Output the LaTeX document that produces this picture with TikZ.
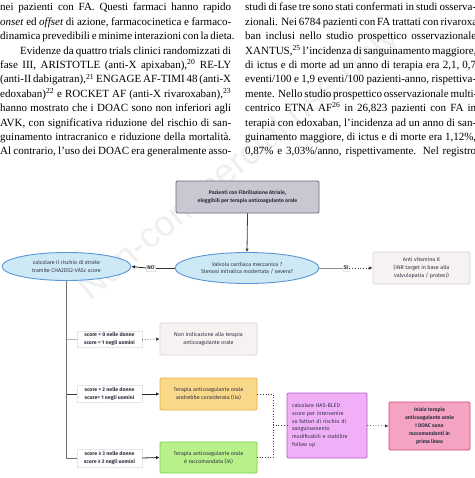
\documentclass[tikz,border=0pt]{standalone}
\usepackage{fontspec}
\setmainfont{Liberation Serif}
\newfontfamily\dia{Fira Sans}
\newfontfamily\wmfont{Liberation Sans}
\usetikzlibrary{shapes.geometric,arrows.meta}
\definecolor{txtc}{HTML}{333344}
\definecolor{topfill}{HTML}{C9C7D1}
\definecolor{topdraw}{HTML}{6D6A80}
\definecolor{ellfill}{HTML}{CDE9F5}
\definecolor{elldraw}{HTML}{5A95D5}
\definecolor{palefill}{HTML}{F7F2F2}
\definecolor{paledraw}{HTML}{D9D0D0}
\definecolor{orfill}{HTML}{F9D88A}
\definecolor{ordraw}{HTML}{E8B040}
\definecolor{grfill}{HTML}{B8F08A}
\definecolor{grdraw}{HTML}{78D040}
\definecolor{pufill}{HTML}{F0B0F8}
\definecolor{pudraw}{HTML}{B858C8}
\definecolor{refill}{HTML}{F5A3C3}
\definecolor{redraw}{HTML}{D84878}
\definecolor{wm}{HTML}{EFEFEF}
\begin{document}
\begin{tikzpicture}[x=1pt,y=-1pt,
  txt/.style={anchor=base west, inner sep=0, font=\fontsize{11}{13}\selectfont},
  box/.style={rectangle, rounded corners=1.2pt, line width=0.9pt, inner sep=1pt, align=center, text=txtc},
  ell/.style={ellipse, fill=ellfill, draw=elldraw, line width=0.9pt, inner sep=0pt, align=center, text=txtc,
     font=\dia\fontsize{5.4}{7.6}\selectfont},
  lab/.style={rectangle, fill=white, draw=black!10, line width=0.4pt, inner sep=1pt, align=center, text=txtc,
     font=\dia\bfseries\fontsize{5.2}{8}\selectfont},
  reg/.style={font=\dia\fontsize{5.4}{7.8}\selectfont},
  bld/.style={font=\dia\bfseries\fontsize{5.2}{8}\selectfont},
  tip/.style={-{Latex[length=3.5pt,width=3.5pt]}},
  dotl/.style={dotted, line width=0.7pt, color=black!75}
]
\useasboundingbox (0,0) rectangle (474,478);
\clip (0,0) rectangle (474,478);
% watermark
\node[anchor=base west, rotate=40, inner sep=0, text=wm, font=\wmfont\fontsize{36}{36}\selectfont] (wmk) at (90,302) {Non-commercial use only};
% left column
\node[txt] (l1) at (0,11) {\makebox[231pt][s]{nei pazienti con FA. Questi farmaci hanno rapido}};
\node[txt] (l2) at (0,25.4) {\makebox[231pt][s]{\textit{onset} ed \textit{offset} di azione, farmacocinetica e farmaco-}};
\node[txt] (l3) at (0,39.8) {\makebox[231pt][s]{dinamica prevedibili e minime interazioni con la dieta.}};
\node[txt] (l4) at (0,54.2) {\makebox[231pt][s]{\hspace*{20pt}Evidenze da quattro trials clinici randomizzati di}};
\node[txt] (l5) at (0,68.6) {\makebox[231pt][s]{fase III, ARISTOTLE (anti-X apixaban),\textsuperscript{20} RE-LY}};
\node[txt] (l6) at (0,83) {\makebox[231pt][s]{(anti-II dabigatran),\textsuperscript{21} ENGAGE AF-TIMI 48 (anti-X}};
\node[txt] (l7) at (0,97.4) {\makebox[231pt][s]{edoxaban)\textsuperscript{22} e ROCKET AF (anti-X rivaroxaban),\textsuperscript{23}}};
\node[txt] (l8) at (0,111.8) {\makebox[231pt][s]{hanno mostrato che i DOAC sono non inferiori agli}};
\node[txt] (l9) at (0,126.2) {\makebox[231pt][s]{AVK, con significativa riduzione del rischio di san-}};
\node[txt] (l10) at (0,140.6) {\makebox[231pt][s]{guinamento intracranico e riduzione della mortalità.}};
\node[txt] (l11) at (0,155) {\makebox[231pt][s]{Al contrario, l'uso dei DOAC era generalmente asso-}};
% right column
\node[txt] (r1) at (245,11) {\makebox[231pt][s]{studi di fase tre sono stati confermati in studi osserva-}};
\node[txt] (r2) at (245,25.4) {\makebox[231pt][s]{zionali. Nei 6784 pazienti con FA trattati con rivaroxa-}};
\node[txt] (r3) at (245,39.8) {\makebox[231pt][s]{ban inclusi nello studio prospettico osservazionale}};
\node[txt] (r4) at (245,54.2) {\makebox[231pt][s]{XANTUS,\textsuperscript{25} l'incidenza di sanguinamento maggiore,}};
\node[txt] (r5) at (245,68.6) {\makebox[231pt][s]{di ictus e di morte ad un anno di terapia era 2,1, 0,7}};
\node[txt] (r6) at (245,83) {\makebox[231pt][s]{eventi/100 e 1,9 eventi/100 pazienti-anno, rispettiva-}};
\node[txt] (r7) at (245,97.4) {\makebox[231pt][s]{mente. Nello studio prospettico osservazionale multi-}};
\node[txt] (r8) at (245,111.8) {\makebox[231pt][s]{centrico ETNA AF\textsuperscript{26} in 26,823 pazienti con FA in}};
\node[txt] (r9) at (245,126.2) {\makebox[231pt][s]{terapia con edoxaban, l'incidenza ad un anno di san-}};
\node[txt] (r10) at (245,140.6) {\makebox[231pt][s]{guinamento maggiore, di ictus e di morte era 1,12\%,}};
\node[txt] (r11) at (245,155) {\makebox[231pt][s]{0,87\% e 3,03\%/anno, rispettivamente. Nel registro}};
% diagram nodes
\node[box, bld, fill=topfill, draw=topdraw, minimum width=143pt, minimum height=32pt] (top) at (247.5,197)
  {Pazienti con Fibrillazione Atriale,\\eleggibili per terapia anticoagulante orale};
\node[ell, minimum width=144pt, minimum height=31pt] (valve) at (247,268)
  {Valvola cardiaca meccanica ?\\Stenosi mitralica modertata / severa?};
\node[ell, minimum width=129pt, minimum height=28pt] (cha) at (66.5,266.5)
  {calcolare il rischio di stroke\\tramite CHA2DS2-VASc score};
\node[box, reg, fill=palefill, draw=paledraw, line width=0.6pt, minimum width=97pt, minimum height=32pt] (avk) at (421.5,268)
  {Anti vitamina K\\(INR target in base alla\\valvulopatia / protesi)};
\node[lab] (no) at (151,268) {NO};
\node[lab] (si) at (346,268) {SI};
\node[lab, minimum width=65pt, minimum height=16pt] (lab1) at (109.5,339.5) {score = 0 nelle donne\\score = 1 negli uomini};
\node[lab, minimum width=65pt, minimum height=17pt] (lab2) at (109.5,394) {score = 2 nelle donne\\score= 1 negli uomini};
\node[lab, minimum width=65pt, minimum height=18pt] (lab3) at (109.5,458) {score ≥ 3 nelle donne\\score ≥ 2 negli uomini};
\node[box, reg, fill=palefill, draw=paledraw, line width=0.6pt, minimum width=97pt, minimum height=32pt] (non) at (208.5,339)
  {Non indicazione alla terapia\\anticoagulante orale};
\node[box, reg, fill=orfill, draw=ordraw, minimum width=97pt, minimum height=32pt] (ora) at (208.5,394)
  {Terapia anticoagulante orale\\andrebbe considerata (IIa)};
\node[box, reg, fill=grfill, draw=grdraw, minimum width=97pt, minimum height=31pt] (gre) at (208.5,457.5)
  {Terapia anticoagulante orale\\è raccomandata (IA)};
\node[box, reg, fill=pufill, draw=pudraw, minimum width=80pt, minimum height=65pt, align=left, text width=70pt] (pur) at (327,425.5)
  {calcolare HAS-BLED\\score per intervenire\\su fattori di rischio di\\sanguinamento\\modificabili e stabilire\\follow up};
\node[box, bld, fill=refill, draw=redraw, minimum width=81pt, minimum height=48pt] (red) at (429.5,426)
  {Inizia terapia\\anticoagulante orale\\I DOAC sono\\raccomandanti in\\prima linea};
% connectors
\draw[tip, line width=0.8pt, color=black!75] (top.south) -- (valve.north);
\draw[line width=0.8pt, color=black!80] (valve.west) -- (no.east);
\draw[tip, line width=0.8pt, color=black!85] (no.west) -- (cha.east);
\draw[line width=0.6pt, color=black!45] (valve.east) -- (si.west);
\draw[dotl, tip] (si.east) -- (avk.west);
\draw[line width=1pt, color=black!55] (cha.south) |- (lab3.west);
\draw[line width=0.7pt, color=black!30] (cha.south |- lab1.west) -- (lab1.west);
\draw[line width=0.8pt, color=black!75] (cha.south |- lab2.west) -- (lab2.west);
\draw[dotl, tip] (lab1.east) -- (non.west);
\draw[tip, line width=0.8pt, color=black!85] (lab2.east) -- (ora.west);
\draw[tip, line width=0.8pt, color=black!85] (lab3.east) -- (gre.west);
\coordinate (bt) at (273,394);
\coordinate (bb) at (273,457.5);
\coordinate (bm) at (273,425.5);
\draw[dotl] (ora.east) -- (bt) -- (bb) -- (gre.east);
\draw[dotl] (bm) -- (pur.west);
\draw[dotl, tip] (pur.east) -- (red.west);
\end{tikzpicture}
\end{document}
